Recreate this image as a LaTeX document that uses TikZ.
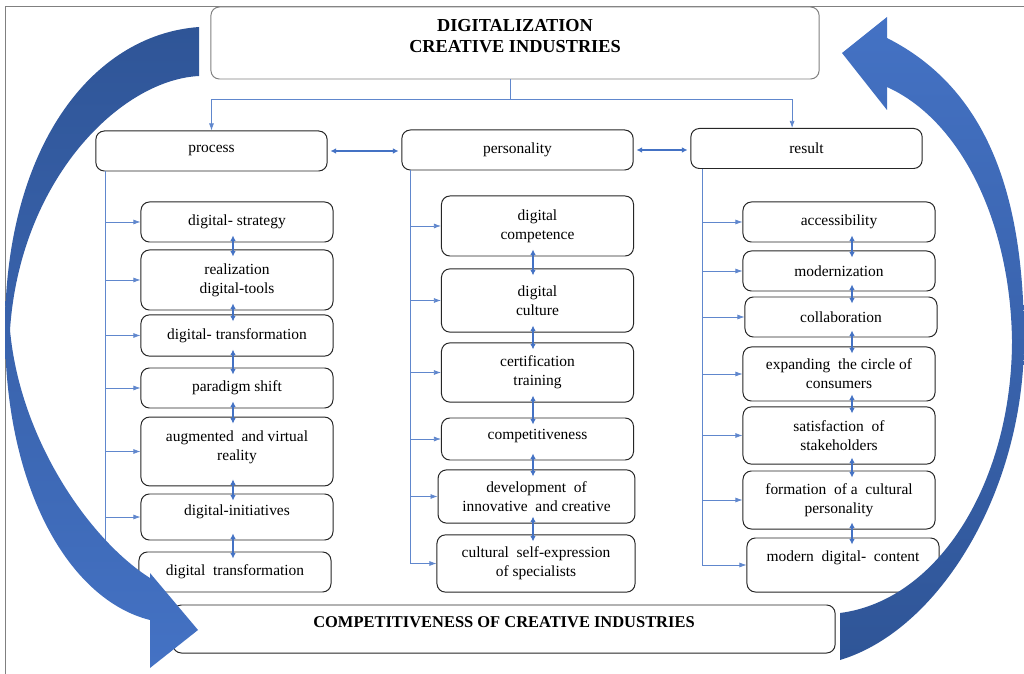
\documentclass[tikz,border=0pt]{standalone}
\usepackage{fontspec}
\setmainfont{Liberation Serif}
\usetikzlibrary{arrows.meta}
\definecolor{linkblue}{HTML}{4472C4}
\definecolor{arcdark}{HTML}{2F5597}
\definecolor{arclight}{HTML}{4472C4}

\begin{document}
\begin{tikzpicture}[x=0.025cm, y=-0.025cm,
  box/.style={draw=black!85, line width=0.7pt, rounded corners=6pt, fill=white,
    align=center, font=\fontsize{11}{13.5}\selectfont, inner sep=2pt,
    minimum width=4.8cm, minimum height=#1},
  box/.default=1cm,
  lift/.style={text depth=#1},
  link/.style={draw=linkblue!85, line width=0.5pt},
  arr/.style={link, -{Latex[length=5pt,width=3.5pt]}},
  dbl/.style={draw=linkblue, line width=0.8pt,
    {Latex[length=4pt,width=4pt]}-{Latex[length=4pt,width=4pt]},
    shorten <=-5pt, shorten >=-5pt}]

\useasboundingbox (0,0) rectangle (1024,674);
\draw[gray, line width=0.6pt] (5,674) -- (5,6) -- (1024,6);

\node[box=1.8cm, minimum width=15.2cm, draw=black!50, lift=10.5pt,
  font=\fontsize{13}{15}\selectfont\bfseries] (top) at (515,43) {DIGITALIZATION\\CREATIVE INDUSTRIES};

\node[box, minimum width=5.78cm] (proc) at (211.5,151) {process};
\node[box, minimum width=5.78cm] (pers) at (517.5,150) {personality};
\node[box, minimum width=5.78cm] (res) at (806.5,148.5) {result};

\node[box=1cm] (p1) at (237,222) {digital-\ strategy};
\node[box=1.5cm] (p2) at (237,280) {realization\\digital-tools};
\node[box=1.03cm] (p3) at (237,335.5) {digital-\ transformation};
\node[box=1cm] (p4) at (237,388) {paradigm shift};
\node[box=1.72cm, lift=9pt] (p5) at (237,451.5) {augmented\ \ and virtual\\reality};
\node[box=1.15cm, lift=10pt] (p6) at (237,517) {digital-initiatives};
\node[box=1cm] (p7) at (235,572) {digital\ \ transformation};

\node[box=1.5cm] (q1) at (537.5,226) {digital\\competence};
\node[box=1.58cm] (q2) at (537.5,300.5) {digital\\culture};
\node[box=1.48cm] (q3) at (537.5,372.5) {certification\\training};
\node[box=1.05cm, lift=7pt] (q4) at (537.5,439) {competitiveness};
\node[box=1.33cm, minimum width=4.92cm] (q5) at (536.5,496.5) {development\ \ of\\innovative\ \ and creative};
\node[box=1.43cm, minimum width=4.95cm] (q6) at (536,563.5) {cultural\ \ self-expression\\of specialists};

\node[box=1cm] (r1) at (839,222) {accessibility};
\node[box=1cm] (r2) at (839,271) {modernization};
\node[box=1cm] (r3) at (841,317) {collaboration};
\node[box=1.35cm] (r4) at (839,374) {expanding\ \ the circle of\\consumers};
\node[box=1.43cm] (r5) at (839,435.5) {satisfaction\ \ of\\stakeholders};
\node[box=1.45cm] (r6) at (839,500) {formation\ \ of a\ \ cultural\\personality};
\node[box=1.35cm, lift=13pt] (r7) at (843,565) {modern\ \ digital-\ \ content};

\node[box=1.2cm, minimum width=16.55cm, lift=10pt, font=\fontsize{11.7}{14}\selectfont\bfseries]
  (comp) at (504,629) {COMPETITIVENESS OF CREATIVE INDUSTRIES};

\draw[link] ([xshift=-0.12cm]top.south) -- ++(0,20) coordinate (hub);
\draw[arr] (hub) -| (proc.north);
\draw[arr] (hub) -| ([xshift=-0.36cm]res.north);
\draw[dbl, shorten <=2pt, shorten >=2pt] (proc.east) -- (proc.east -| pers.west);
\draw[dbl, shorten <=2pt, shorten >=2pt] (pers.east) -- (pers.east -| res.west);

\coordinate (ps) at ([xshift=0.25cm]proc.south west);
\coordinate (qs) at ([xshift=0.22cm]pers.south west);
\coordinate (rs) at ([xshift=0.3cm]res.south west);
\draw[link] (ps) -- (ps |- p7.west);
\draw[link] (qs) -- (qs |- q6.west);
\draw[link] (rs) -- (rs |- r7.west);
\foreach \n in {p1,p2,p3,p4,p5,p6,p7}
  \draw[arr] (ps |- \n.west) -- (\n.west);
\foreach \n in {q1,q2,q3,q4,q5,q6}
  \draw[arr] (qs |- \n.west) -- (\n.west);
\foreach \n in {r1,r2,r3,r4,r5,r6,r7}
  \draw[arr] (rs |- \n.west) -- (\n.west);

\coordinate (px) at (233,0);
\coordinate (qx) at (533,0);
\coordinate (rx) at (852,0);
\foreach \a/\b in {p1/p2,p2/p3,p3/p4,p4/p5,p5/p6,p6/p7}
  \draw[dbl] (\a.south -| px) -- (\b.north -| px);
\foreach \a/\b in {q1/q2,q2/q3,q3/q4,q4/q5,q5/q6}
  \draw[dbl] (\a.south -| qx) -- (\b.north -| qx);
\foreach \a/\b in {r1/r2,r2/r3,r3/r4,r4/r5,r5/r6,r6/r7}
  \draw[dbl] (\a.south -| rx) -- (\b.north -| rx);

\shade[top color=arcdark, middle color=arclight, bottom color=arclight]
  (199,27) .. controls (90,35) and (5,150) .. (5,330)
  .. controls (5,490) and (70,600) .. (150,620)
  -- (150,668) -- (198,630) -- (150,573) -- (150,578)
  .. controls (90,540) and (20,440) .. (10,330)
  .. controls (20,180) and (120,80) .. (199,76) -- cycle;
\shade[top color=arclight, middle color=arclight, bottom color=arcdark]
  (842,53) -- (887,17) -- (887,38)
  .. controls (990,90) and (1024,200) .. (1024,340)
  .. controls (1024,490) and (940,630) .. (840,660) -- (840,613)
  .. controls (940,600) and (1012,480) .. (1012,340)
  .. controls (1010,220) and (960,120) .. (887,87)
  -- (887,110) -- cycle;
\end{tikzpicture}
\end{document}
